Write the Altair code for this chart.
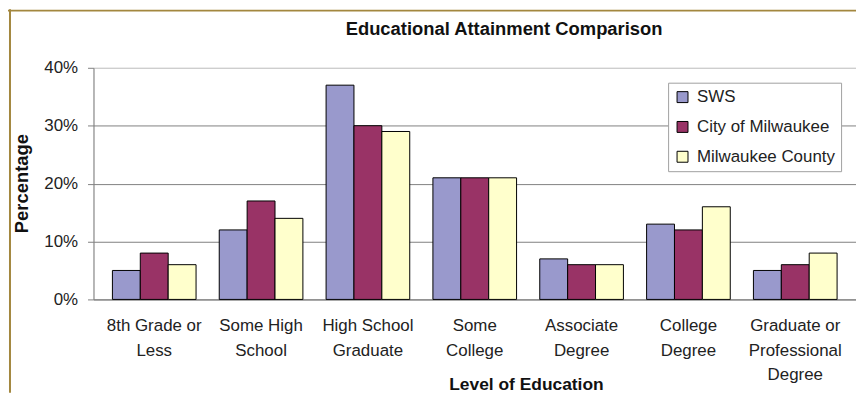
import altair as alt
import pandas as pd

categories = ["8th Grade or\nLess", "Some High\nSchool", "High School\nGraduate",
              "Some\nCollege", "Associate\nDegree", "College\nDegree",
              "Graduate or\nProfessional\nDegree"]
series = ["SWS", "City of Milwaukee", "Milwaukee County"]
sws = [5, 12, 37, 21, 7, 13, 5]
city = [8, 17, 30, 21, 6, 12, 6]
county = [6, 14, 29, 21, 6, 16, 8]
colors = ["#9999CC", "#993366", "#FFFFCC"]
y_ticks = [0, 10, 20, 30, 40]
chart_title = ["Educational Attainment Comparison"]
x_title = "Level of Education"
y_title = "Percentage"

rows = []
for s, vals in zip(series, [sws, city, county]):
    for c, v in zip(categories, vals):
        rows.append({"category": c, "series": s, "value": v})
df = pd.DataFrame(rows)

FONT = "Liberation Sans"
GOLD = "#A3873F"

bars = alt.Chart(df).mark_bar(stroke="black", strokeWidth=1).encode(
    x=alt.X("category:N", sort=categories,
            scale=alt.Scale(paddingInner=0.217, paddingOuter=0.177),
            axis=alt.Axis(title=x_title, labelAngle=0,
                          labelExpr="split(datum.label, '\\n')",
                          labelFontSize=17, labelFont=FONT, labelColor="#222222",
                          labelLineHeight=25, labelPadding=18, ticks=False,
                          domainColor="#808080", grid=False, labelLimit=200,
                          titleFontSize=17.5, titleFont=FONT, titleFontWeight="bold",
                          titleColor="#111111", titleX=435, titleY=86,
                          titleBaseline="middle", titleAlign="center")),
    xOffset=alt.XOffset("series:N", sort=series,
                        scale=alt.Scale(paddingInner=0, paddingOuter=0)),
    y=alt.Y("value:Q", scale=alt.Scale(domain=[0, 40], nice=False),
            axis=alt.Axis(title=y_title, values=y_ticks,
                          labelExpr="datum.value + '%'",
                          labelFontSize=17, labelFont=FONT, labelColor="#222222",
                          labelPadding=10, tickSize=6, tickColor="#808080",
                          domainColor="#808080",
                          gridColor={"condition": {"test": "datum.value == 40", "value": "#c8c8c8"},
                                     "value": "#808080"},
                          titleFontSize=18.5, titleFont=FONT, titleFontWeight="bold",
                          titleColor="#111111", titleX=-72, titleY=116,
                          titleBaseline="middle", titleAlign="center", titleAngle=-90)),
    color=alt.Color("series:N", sort=series,
                    scale=alt.Scale(domain=series, range=colors),
                    legend=alt.Legend(title=None, orient="none", legendX=578, legendY=15,
                                      padding=6, fillColor="white", strokeColor="#a0a0a0",
                                      symbolType="square", symbolSize=121,
                                      symbolStrokeColor="black", symbolStrokeWidth=1,
                                      symbolOpacity=1,
                                      labelFontSize=17, labelFont=FONT, labelColor="#222222",
                                      labelOffset=6, rowPadding=12, labelLimit=300)),
)

title_text = alt.Chart(pd.DataFrame({"t": chart_title})).mark_text(
    font=FONT, fontSize=18.5, fontWeight="bold", color="#111111",
    align="center", baseline="middle").encode(
    text="t:N", x=alt.value(413), y=alt.value(-39))

frame = alt.Data(values=[{"k": 1}])
left_rule = alt.Chart(frame).mark_rule(color=GOLD, strokeWidth=2).encode(
    x=alt.value(-84), y=alt.value(-59), y2=alt.value(327))
top_rule = alt.Chart(frame).mark_rule(color=GOLD, strokeWidth=2).encode(
    x=alt.value(-86), x2=alt.value(767), y=alt.value(-57.5))

chart = alt.layer(bars, title_text, left_rule, top_rule).properties(
    width=767, height=233,
    autosize=alt.AutoSizeParams(type="none"),
    padding={"left": 86, "top": 59, "right": 0, "bottom": 94},
).configure_view(stroke="#c8c8c8").configure(background="white")

chart.save("out.html", embed_options={"renderer": "svg", "actions": False})
